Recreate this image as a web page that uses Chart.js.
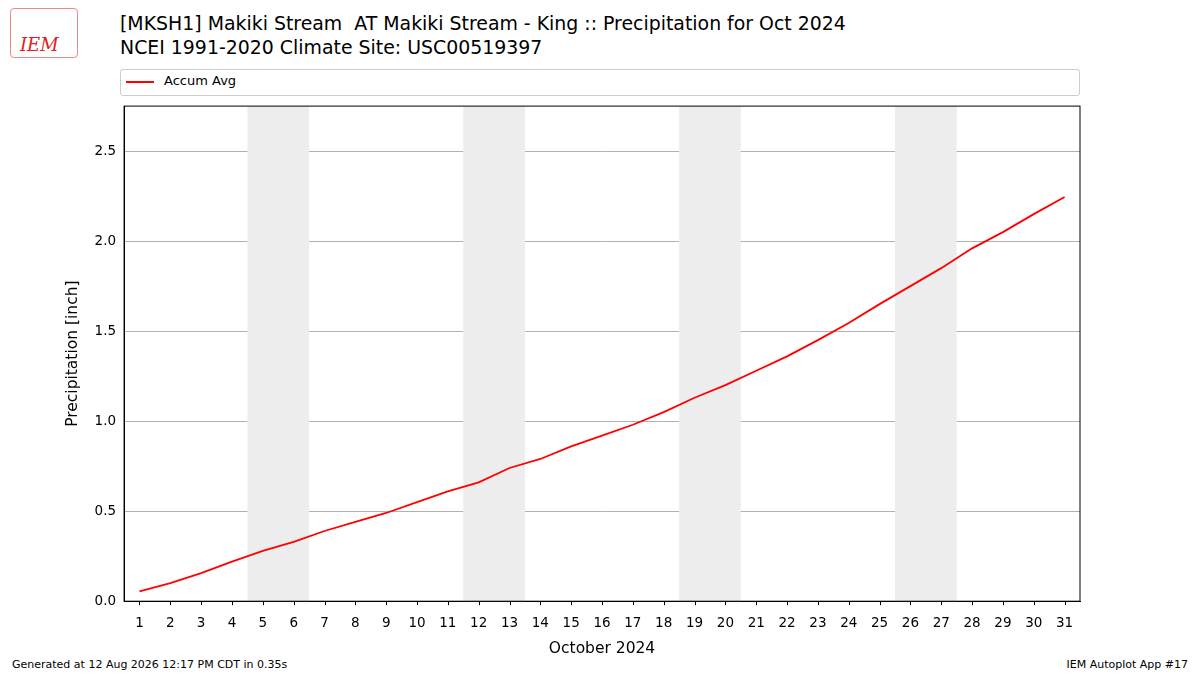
<!DOCTYPE html>
<html><head><meta charset="utf-8">
<script src="https://cdn.jsdelivr.net/npm/chart.js@4"></script>
<style>
body{margin:0;width:1200px;height:675px;background:#fff;font-family:"DejaVu Sans",sans-serif;position:relative;overflow:hidden}
#wrap{position:absolute;left:60px;top:90px;width:1030px;height:570px}
.t{position:absolute;color:#000}
</style></head><body>
<div class="t" style="left:10px;top:8px;width:66px;height:48px;border:1px solid #e88;border-radius:4px"></div>
<div class="t" style="left:20px;top:34px;font:italic 18px 'DejaVu Serif';color:#d22">IEM</div>
<div class="t" style="left:120px;top:12px;font-size:18.9px">[MKSH1] Makiki Stream&nbsp; AT Makiki Stream - King :: Precipitation for Oct 2024</div>
<div class="t" style="left:120px;top:36px;font-size:18.9px">NCEI 1991-2020 Climate Site: USC00519397</div>
<div class="t" style="left:120px;top:69px;width:958px;height:25px;border:1px solid #ccc;border-radius:3px"></div>
<div class="t" style="left:126px;top:81px;width:28px;border-top:2px solid red"></div>
<div class="t" style="left:164px;top:73px;font-size:13px">Accum Avg</div>
<div class="t" style="left:12px;top:658px;font-size:11px">Generated at 12 Aug 2026 12:17 PM CDT in 0.35s</div>
<div class="t" style="right:12px;top:658px;font-size:11px">IEM Autoplot App #17</div>
<div id="wrap"><canvas id="c"></canvas></div>
<script>
// jours et cumul moyen (pouces)
const days = [];
for (let d = 1; d <= 31; d++) days.push(d);
const accumAvg = [0.054,0.10,0.156,0.22,0.28,0.33,0.39,0.44,0.49,0.55,0.61,0.66,0.74,0.79,0.86,0.92,0.98,1.05,1.13,1.20,1.28,1.36,1.45,1.545,1.65,1.75,1.85,1.96,2.05,2.15,2.245];
const weekends = [[4.5,6.5],[11.5,13.5],[18.5,20.5],[25.5,27.5]];

const bands = {
  id: 'bands',
  beforeDatasetsDraw(chart) {
    const {ctx, chartArea: a, scales: {x}} = chart;
    ctx.save();
    ctx.fillStyle = '#ededed';
    for (const [s, e] of weekends) {
      ctx.fillRect(x.getPixelForValue(s), a.top, x.getPixelForValue(e) - x.getPixelForValue(s), a.bottom - a.top);
    }
    ctx.restore();
  },
  afterDraw(chart) {
    const {ctx, chartArea: a, scales: {x}} = chart;
    ctx.save();
    ctx.strokeStyle = '#000'; ctx.lineWidth = 1;
    ctx.strokeRect(a.left, a.top, a.right - a.left, a.bottom - a.top);
    // petits traits des graduations x
    for (const d of days) {
      const px = Math.round(x.getPixelForValue(d)) + 0.5;
      ctx.beginPath(); ctx.moveTo(px, a.bottom); ctx.lineTo(px, a.bottom + 4); ctx.stroke();
    }
    ctx.restore();
  }
};

new Chart(document.getElementById('c'), {
  type: 'line',
  data: {datasets: [{label: 'Accum Avg', data: days.map((d, i) => ({x: d, y: accumAvg[i]})),
    borderColor: 'red', borderWidth: 1.8, pointRadius: 0, tension: 0}]},
  options: {
    responsive: true, maintainAspectRatio: false, animation: false,
    layout: {padding: {top: 10, right: 10}},
    plugins: {legend: {display: false}, tooltip: {enabled: false}},
    scales: {
      x: {type: 'linear', min: 0.5, max: 31.5,
        afterBuildTicks(s) { s.ticks = days.map(v => ({value: v})); },
        grid: {display: false},
        border: {color: '#000'},
        ticks: {color: '#000', font: {size: 13.5, family: 'DejaVu Sans'}, maxRotation: 0, autoSkip: false, padding: 6},
        title: {display: true, text: 'October 2024', color: '#000', font: {size: 15.5, family: 'DejaVu Sans'}, padding: 2}},
      y: {min: 0, max: 2.75,
        afterBuildTicks(s) { s.ticks = [0,0.5,1,1.5,2,2.5].map(v => ({value: v})); },
        grid: {color: '#b0b0b0', drawTicks: false},
        border: {color: '#000'},
        ticks: {color: '#000', font: {size: 13.5, family: 'DejaVu Sans'}, padding: 8, callback: v => v.toFixed(1)},
        title: {display: true, text: 'Precipitation [inch]', color: '#000', font: {size: 15.5, family: 'DejaVu Sans'}}}
    }
  },
  plugins: [bands]
});
</script></body></html>
